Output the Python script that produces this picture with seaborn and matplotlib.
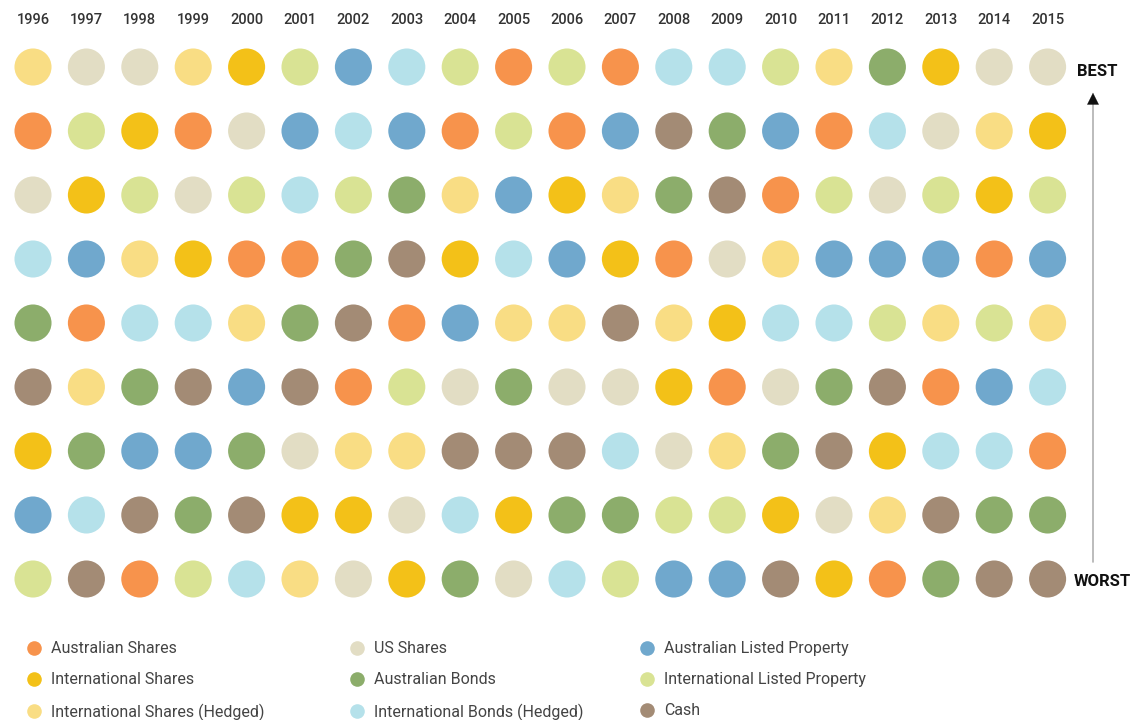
import numpy as np
import pandas as pd
import matplotlib
matplotlib.use("Agg")
import matplotlib.pyplot as plt
from matplotlib import font_manager
from matplotlib.lines import Line2D
import seaborn as sns

# Asset classes, legend order (filled column by column)
categories = [
    "Australian Shares", "International Shares", "International Shares (Hedged)",
    "US Shares", "Australian Bonds", "International Bonds (Hedged)",
    "Australian Listed Property", "International Listed Property", "Cash",
]
colors = [
    "#F7934C", "#F3C118", "#F9DD84",
    "#E2DDC4", "#8CAD6B", "#B5E1EA",
    "#70A8CD", "#D9E394", "#A38B75",
]

years = list(range(1996, 2016))

AS, IS, ISH = "Australian Shares", "International Shares", "International Shares (Hedged)"
US, AB, IBH = "US Shares", "Australian Bonds", "International Bonds (Hedged)"
ALP, ILP, C = "Australian Listed Property", "International Listed Property", "Cash"

# Ranking per year, best (top) to worst (bottom)
rank_1 = [ISH, US, US, ISH, IS, ILP, ALP, IBH, ILP, AS, ILP, AS, IBH, IBH, ILP, ISH, AB, IS, US, US]
rank_2 = [AS, ILP, IS, AS, US, ALP, IBH, ALP, AS, ILP, AS, ALP, C, AB, ALP, AS, IBH, US, ISH, IS]
rank_3 = [US, IS, ILP, US, ILP, IBH, ILP, AB, ISH, ALP, IS, ISH, AB, C, AS, ILP, US, ILP, IS, ILP]
rank_4 = [IBH, ALP, ISH, IS, AS, AS, AB, C, IS, IBH, ALP, IS, AS, US, ISH, ALP, ALP, ALP, AS, ALP]
rank_5 = [AB, AS, IBH, IBH, ISH, AB, C, AS, ALP, ISH, ISH, C, ISH, IS, IBH, IBH, ILP, ISH, ILP, ISH]
rank_6 = [C, ISH, AB, C, ALP, C, AS, ILP, US, AB, US, US, IS, AS, US, AB, C, AS, ALP, IBH]
rank_7 = [IS, AB, ALP, ALP, AB, US, ISH, ISH, C, C, C, IBH, US, ISH, AB, C, IS, IBH, IBH, AS]
rank_8 = [ALP, IBH, C, AB, C, IS, IS, US, IBH, IS, AB, AB, ILP, ILP, IS, US, ISH, C, AB, AB]
rank_9 = [ILP, C, AS, ILP, IBH, ISH, US, IS, AB, US, IBH, ILP, ALP, ALP, C, IS, AS, AB, C, C]

ranks = [rank_1, rank_2, rank_3, rank_4, rank_5, rank_6, rank_7, rank_8, rank_9]

rows = []
for r, row in enumerate(ranks, start=1):
    for i, cat in enumerate(row):
        rows.append({"col": i, "rank": r, "asset": cat})
df = pd.DataFrame(rows)

sns.set_theme(style="white")
available = {f.name for f in font_manager.fontManager.ttflist}
narrow = "Liberation Sans Narrow" if "Liberation Sans Narrow" in available else "Roboto"
plt.rcParams["font.family"] = [narrow, "DejaVu Sans"]

W, H = 1136, 720
fig = plt.figure(figsize=(W / 100, H / 100), dpi=100)
ax = fig.add_axes([0, 0, 1, 1])

# pixel geometry of the grid
x0, dx = 33.0, 53.4
y0, dy = 67.0, 64.0
ax.set_xlim(-x0 / dx, (W - x0) / dx)
ax.set_ylim(1 + (H - y0) / dy, 1 - y0 / dy)

palette = dict(zip(categories, colors))
sns.scatterplot(data=df, x="col", y="rank", hue="asset", hue_order=categories,
                palette=palette, s=37 ** 2 * 0.52, linewidth=0, legend=False, ax=ax)
ax.axis("off")

# year labels along the top
for i, yr in enumerate(years):
    ax.text(i, 1 - (y0 - 20) / dy, str(yr), ha="center", va="center",
            fontsize=10.5, color="#333333", fontweight="medium")

def px(x, y):
    return (x - x0) / dx, 1 + (y - y0) / dy

# BEST / WORST scale with arrow
bx, by = px(1077, 71)
ax.text(bx, by, "BEST", ha="left", va="center", fontsize=12, fontweight="bold", color="#111111")
wx, wy = px(1074, 582)
ax.text(wx, wy, "WORST", ha="left", va="center", fontsize=12, fontweight="bold", color="#111111")
ax_x, ay_top = px(1093, 100)
_, ay_bot = px(1093, 562)
ax.plot([ax_x, ax_x], [ay_bot, ay_top], color="#b0b0b0", lw=1.2)
ax.annotate("", xy=px(1093, 90), xytext=px(1093, 104),
            arrowprops=dict(arrowstyle="-|>,head_length=0.7,head_width=0.35",
                            color="#111111", lw=0.1))

# legend in three columns
legend_cols = [(categories[0:3], colors[0:3], 20), (categories[3:6], colors[3:6], 343),
               (categories[6:9], colors[6:9], 633)]
for names, cols, left in legend_cols:
    handles = [Line2D([0], [0], marker="o", linestyle="", markersize=10.5,
                      markerfacecolor=c, markeredgewidth=0) for c in cols]
    leg = fig.legend(handles, names, loc="upper left",
                     bbox_to_anchor=(left / W, 1 - 635 / H), frameon=False,
                     fontsize=11.5, labelcolor="#444444", handletextpad=0.55,
                     labelspacing=1.0, borderaxespad=0, handlelength=1.0)

fig.savefig("out.png", dpi=100, facecolor="white")
